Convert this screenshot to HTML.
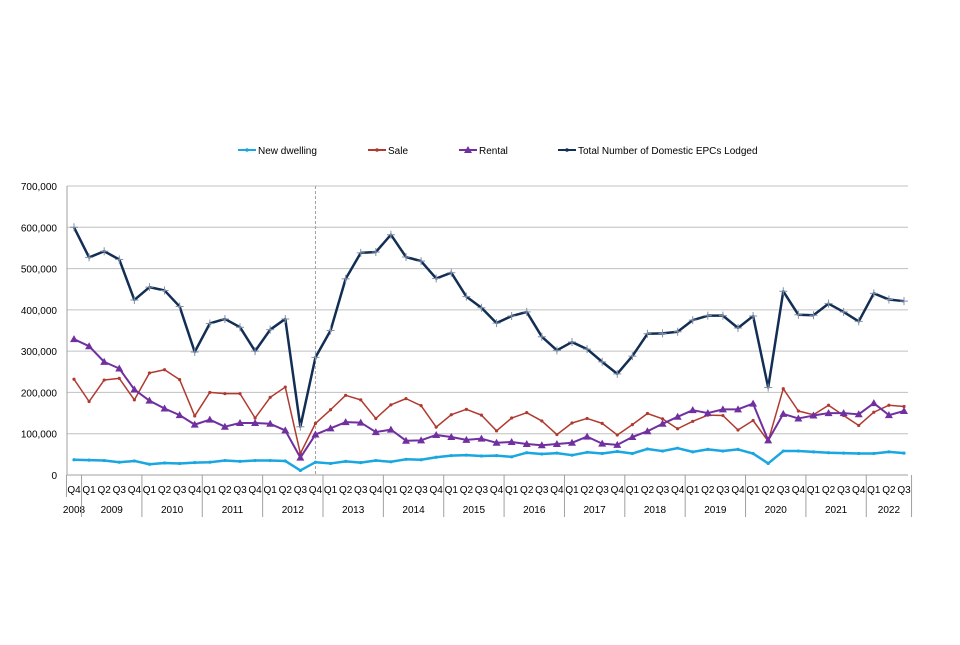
<!DOCTYPE html>
<html><head><meta charset="utf-8"><style>
body{margin:0;background:#fff;font-family:"Liberation Sans",sans-serif}
svg text{font-family:"Liberation Sans",sans-serif;font-size:10px;fill:#000}
</style></head><body>
<svg id="c" width="960" height="640"></svg>
<script>
const quarters=["Q4","Q1","Q2","Q3","Q4","Q1","Q2","Q3","Q4","Q1","Q2","Q3","Q4","Q1","Q2","Q3","Q4","Q1","Q2","Q3","Q4","Q1","Q2","Q3","Q4","Q1","Q2","Q3","Q4","Q1","Q2","Q3","Q4","Q1","Q2","Q3","Q4","Q1","Q2","Q3","Q4","Q1","Q2","Q3","Q4","Q1","Q2","Q3","Q4","Q1","Q2","Q3","Q4","Q1","Q2","Q3"];
const years=["2008","2009","2010","2011","2012","2013","2014","2015","2016","2017","2018","2019","2020","2021","2022"];
const yTicks=[0,100000,200000,300000,400000,500000,600000,700000];
const newDwelling=[37,36,35,31,34,26,29,28,30,31,35,33,35,35,34,11,31,28,33,30,35,32,38,37,43,47,48,46,47,44,54,51,53,48,55,52,57,52,63,58,65,56,62,58,62,52,28,58,58,56,54,53,52,52,56,53];
const sale=[232,178,230,234,182,247,255,231,143,200,197,197,138,188,213,52,125,158,193,182,137,170,185,168,116,146,159,145,107,138,151,131,98,126,137,125,97,122,149,136,112,130,145,144,109,132,82,209,155,146,169,144,120,152,169,166];
const rental=[329,312,274,258,207,180,161,145,122,134,117,126,126,124,108,42,98,113,128,127,104,110,83,84,97,92,85,88,78,80,75,72,75,78,93,76,73,92,106,124,141,157,150,159,159,173,84,148,137,144,150,150,147,174,145,155];
const total=[600,527,542,522,424,455,447,408,298,367,378,358,300,352,378,117,285,350,475,538,540,582,528,518,476,490,432,405,368,385,395,335,302,322,305,274,245,288,342,343,347,375,386,386,356,385,212,445,388,387,415,395,372,440,425,421];
const NS="http://www.w3.org/2000/svg",svg=document.getElementById('c');
const x0=74,dx=(904-74)/55,yb=475,yt=186,ymax=700000;
const X=i=>x0+i*dx, Y=v=>yb-(v/ymax)*(yb-yt);
function el(t,a,p){const e=document.createElementNS(NS,t);for(const k in a)e.setAttribute(k,a[k]);(p||svg).appendChild(e);return e;}
yTicks.forEach(v=>{
 const g=el('line',{x1:67,x2:908,y1:Y(v),y2:Y(v),stroke:v?'#c0c0c0':'#a0a0a0','stroke-width':1});
 
 
 const t=el('text',{x:57,y:Y(v)+4,'text-anchor':'end'});t.textContent=v.toLocaleString('en-GB');
 
 
});
el('line',{x1:67,x2:67,y1:186,y2:475,stroke:'#a0a0a0'});
const dl=el('line',{x1:X(16),x2:X(16),y1:186,y2:475,stroke:'#a0a0a0','stroke-dasharray':'3,2'});


quarters.forEach((q,i)=>{
 const t=el('text',{x:X(i),y:493,'text-anchor':'middle'});t.textContent=q;
 
 
});
let start=0;
years.forEach((y,k)=>{
 const n=k==0?1:(k==years.length-1?3:4);
 const end=start+n-1;
 const lx=X(start)-dx/2;
 el('line',{x1:lx,x2:lx,y1:475,y2:k==0?497:517,stroke:'#a0a0a0'});
 const t=el('text',{x:(X(start)+X(end))/2,y:513,'text-anchor':'middle'});t.textContent=y;
 
 
 start=end+1;
});
el('line',{x1:X(55)+dx/2,x2:X(55)+dx/2,y1:475,y2:517,stroke:'#a0a0a0'});
function series(data,color,w,marker,name){
 const pts=data.map((v,i)=>X(i)+','+Y(v*1000)).join(' ');
 const p=el('polyline',{points:pts,fill:'none',stroke:color,'stroke-width':w,'stroke-linejoin':'round'});
 
 
 data.forEach((v,i)=>{
  const cx=X(i),cy=Y(v*1000);let m;
  if(marker=='tri')m=el('polygon',{points:`${cx},${cy-4} ${cx-4},${cy+3} ${cx+4},${cy+3}`,fill:color});
  else if(marker=='plus')m=el('path',{d:`M${cx-4},${cy}H${cx+4}M${cx},${cy-4}V${cy+4}`,stroke:'#8090a8','stroke-width':1});
  else m=el('circle',{cx,cy,r:1.6,fill:color});
  
  
 });
}
series(newDwelling,'#1aa6e0',2.5,'dot','new-dwelling');
series(sale,'#b03a30',1.5,'dot','sale');
series(rental,'#7030a0',2,'tri','rental');
series(total,'#132e54',2.5,'plus','total');
const leg=[['New dwelling','#1aa6e0',238,'dot'],['Sale','#b03a30',368,'dot'],['Rental','#7030a0',459,'tri'],['Total Number of Domestic EPCs Lodged','#132e54',558,'plus']];
leg.forEach(([n,c,x,m])=>{
 const g=el('g',{});
 
 
 el('line',{x1:x,x2:x+18,y1:150,y2:150,stroke:c,'stroke-width':2},g);
 if(m=='tri')el('polygon',{points:`${x+9},146 ${x+5},153 ${x+13},153`,fill:c},g);
 else el('circle',{cx:x+9,cy:150,r:1.8,fill:c},g);
 const t=el('text',{x:x+20,y:154},g);t.textContent=n;
});
</script>
</body></html>
